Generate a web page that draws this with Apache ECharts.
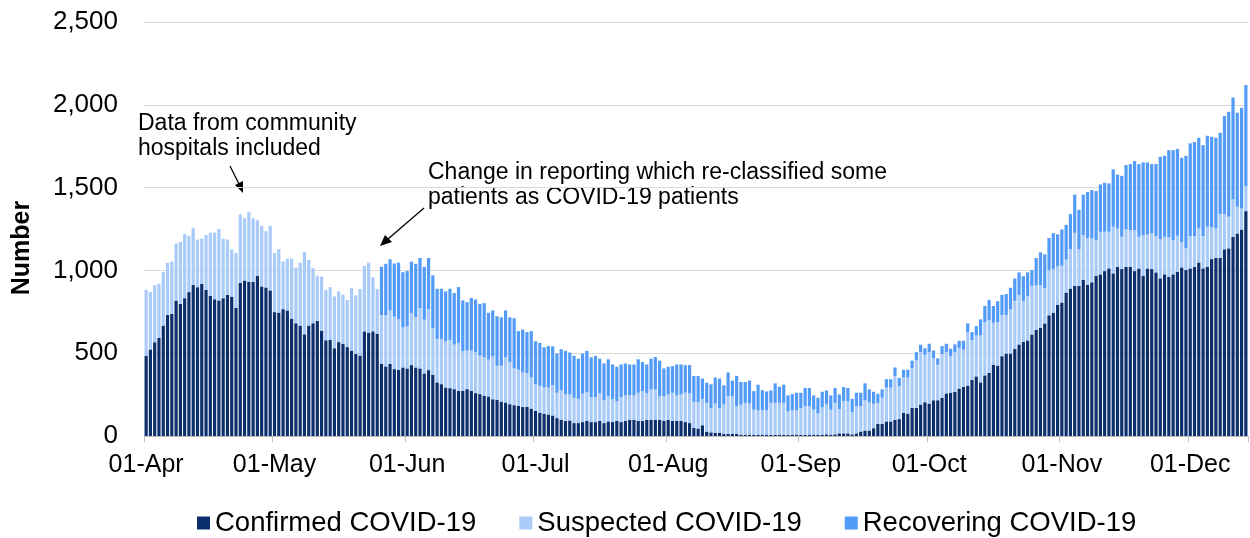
<!DOCTYPE html>
<html>
<head>
<meta charset="utf-8">
<script src="https://cdn.jsdelivr.net/npm/echarts@6/dist/echarts.min.js"></script>
<style>
html,body{margin:0;padding:0;background:#fff;}
#chart{width:1250px;height:538px;}
</style>
</head>
<body>
<div id="chart"></div>
<script>
// ---- Data (daily, 01-Apr to 14-Dec) ----
const startDate = Date.UTC(2020, 3, 1);
const dayCount = 258;
const monthNames = ['Jan','Feb','Mar','Apr','May','Jun','Jul','Aug','Sep','Oct','Nov','Dec'];

const confirmed = [
485,523,566,592,667,731,737,818,798,832,869,913,899,919,883,846,826,818,832,852,
842,774,925,939,931,931,967,903,897,879,748,745,766,758,709,681,667,614,667,681,
695,636,578,580,530,567,557,537,516,496,486,632,624,632,618,435,420,435,404,400,
414,408,428,414,408,378,398,370,324,313,293,289,283,273,273,283,273,259,253,243,
239,222,218,208,202,192,186,182,176,176,166,152,141,135,130,124,108,98,92,94,
78,78,84,92,84,84,92,78,88,84,92,84,92,98,98,92,92,98,98,98,
98,92,98,92,92,92,84,78,49,45,65,27,22,20,20,12,12,12,12,8,
8,8,6,6,6,6,6,6,6,6,6,6,6,6,6,6,6,6,6,10,
6,10,16,16,16,10,16,27,33,33,47,73,73,88,88,98,102,139,135,169,
169,190,204,196,216,216,231,257,262,267,287,296,304,340,360,324,366,381,431,425,
482,498,498,526,553,569,577,613,640,654,680,729,745,791,806,866,891,907,907,943,
914,928,968,976,996,1012,982,1022,1008,1022,1022,996,1012,968,1012,1008,988,952,976,962,
976,992,1018,1002,1012,1022,1048,1012,1022,1068,1076,1076,1127,1133,1203,1223,1247,1358
];

const suspected = [
398,346,345,327,323,315,317,344,374,388,339,344,287,273,331,382,402,432,360,334,
285,331,413,376,421,384,336,366,339,390,357,383,288,313,362,337,379,497,396,333,
273,326,303,319,313,306,296,285,378,353,401,394,423,327,269,295,310,322,316,306,
241,255,313,303,364,324,368,281,262,273,279,291,269,289,239,233,243,247,232,232,
222,259,206,216,273,253,222,218,208,204,188,161,162,158,162,182,153,180,159,157,
153,146,171,173,151,151,165,138,153,140,118,151,153,147,147,169,179,159,183,183,
143,149,153,169,153,159,177,179,157,159,159,173,145,176,149,178,229,229,168,182,
192,188,153,149,149,149,194,194,194,194,143,149,149,163,174,174,153,130,167,180,
153,190,147,194,194,133,164,153,183,171,147,127,158,204,204,265,200,214,218,241,
290,316,286,310,253,214,265,249,220,239,245,226,323,239,247,283,322,319,253,263,
249,233,267,290,299,247,269,294,271,257,213,273,263,233,222,199,238,320,222,271,
282,265,215,257,237,221,282,231,195,225,221,247,191,245,205,215,219,237,227,237,
207,217,151,131,195,185,205,195,242,192,177,264,213,191,226,161,127,151
];

const recovering = [
0,0,0,0,0,0,0,0,0,0,0,0,0,0,0,0,0,0,0,0,
0,0,0,0,0,0,0,0,0,0,0,0,0,0,0,0,0,0,0,0,
0,0,0,0,0,0,0,0,0,0,0,0,0,0,0,292,310,310,322,341,
334,333,312,323,303,319,309,319,303,303,301,309,311,337,307,292,317,318,313,327,
283,277,299,293,283,272,303,233,259,247,279,259,259,243,251,235,237,246,263,253,
253,243,243,249,240,249,210,222,222,208,208,197,193,187,187,202,176,175,186,196,
214,167,167,161,187,181,167,171,157,159,123,122,145,157,178,116,143,94,183,136,
126,139,112,155,122,114,75,118,98,110,96,98,106,92,110,110,86,95,94,85,
86,90,88,86,80,81,81,81,102,78,73,55,51,51,51,51,49,47,47,45,
47,45,40,51,47,39,47,51,45,47,43,53,53,48,57,97,97,122,101,126,
121,127,130,135,136,149,142,95,164,198,204,194,217,194,219,210,211,230,237,243,
277,292,296,286,296,292,346,326,368,389,399,417,439,439,435,419,435,497,489,527,
543,525,511,559,560,568,548,549,549,547,548,491,592,634,615,568,608,610
];

const yTicks = [0, 500, 1000, 1500, 2000, 2500];
const seriesNames = ['Confirmed COVID-19', 'Suspected COVID-19', 'Recovering COVID-19'];
const axisTitle = 'Number';
const annotations = [
  'Data from community\nhospitals included',
  'Change in reporting which re-classified some\npatients as COVID-19 patients'
];

// category labels from dates
const categories = [];
const isMonthStart = [];
for (let i = 0; i < dayCount; i++) {
  const d = new Date(startDate + i * 86400000);
  const dd = String(d.getUTCDate()).padStart(2, '0');
  categories.push(dd + '-' + monthNames[d.getUTCMonth()]);
  isMonthStart.push(d.getUTCDate() === 1);
}

const colors = ['#0b2f6d', '#a9cbfa', '#529bf7'];
const FONT = '"Liberation Sans", Arial, sans-serif';

const chart = echarts.init(document.getElementById('chart'), null, {renderer: 'canvas'});

const seriesData = [confirmed, suspected, recovering];
const series = seriesData.map((arr, k) => ({
  name: seriesNames[k],
  type: 'bar',
  stack: 'total',
  data: arr,
  barCategoryGap: '25%',
  itemStyle: {color: colors[k]},
  emphasis: {disabled: true},
  animation: false
}));

chart.setOption({
  animation: false,
  backgroundColor: '#ffffff',
  grid: {left: 144, right: 2, top: 22, bottom: 102, containLabel: false},
  xAxis: {
    type: 'category',
    data: categories,
    boundaryGap: true,
    axisLine: {show: true, lineStyle: {color: '#bfbfbf', width: 1}},
    axisTick: {
      show: true,
      interval: (i) => isMonthStart[i],
      length: 6,
      lineStyle: {color: '#bfbfbf'}
    },
    axisLabel: {
      interval: (i) => isMonthStart[i],
      color: '#000',
      fontFamily: FONT,
      fontSize: 25,
      margin: 17
    }
  },
  yAxis: {
    type: 'value',
    min: yTicks[0],
    max: yTicks[yTicks.length - 1],
    interval: 500,
    axisLine: {show: false},
    axisTick: {show: false},
    splitLine: {lineStyle: {color: '#d9d9d9', width: 1}},
    axisLabel: {
      color: '#000',
      fontFamily: FONT,
      fontSize: 26,
      margin: 26,
      formatter: (v) => v.toLocaleString('en-US')
    }
  },
  legend: {
    data: seriesNames,
    top: 504,
    left: 192,
    icon: 'rect',
    itemWidth: 13,
    itemHeight: 13,
    itemGap: 43,
    textStyle: {color: '#000', fontFamily: FONT, fontSize: 27.5, padding: [0, 0, 0, 0]}
  },
  graphic: [
    {
      type: 'text', x: 22, y: 248, rotation: Math.PI / 2,
      style: {text: axisTitle, font: 'bold 25px ' + FONT, fill: '#000', textAlign: 'center', textVerticalAlign: 'middle'}
    },
    {
      type: 'text', x: 138, y: 111,
      style: {text: annotations[0], font: '23px ' + FONT, fill: '#000', lineHeight: 25}
    },
    {
      type: 'text', x: 428, y: 160,
      style: {text: annotations[1], font: '23px ' + FONT, fill: '#000', lineHeight: 25}
    },
    {
      type: 'line', shape: {x1: 230, y1: 166, x2: 240, y2: 186},
      style: {stroke: '#000', lineWidth: 1.3}
    },
    {
      type: 'polygon', shape: {points: [[243, 193], [235, 185], [243, 181]]},
      style: {fill: '#000'}
    },
    {
      type: 'line', shape: {x1: 424, y1: 208, x2: 388, y2: 239},
      style: {stroke: '#000', lineWidth: 1.3}
    },
    {
      type: 'polygon', shape: {points: [[380, 246], [385, 235], [392, 242]]},
      style: {fill: '#000'}
    }
  ],
  series: series
});
</script>
</body>
</html>
